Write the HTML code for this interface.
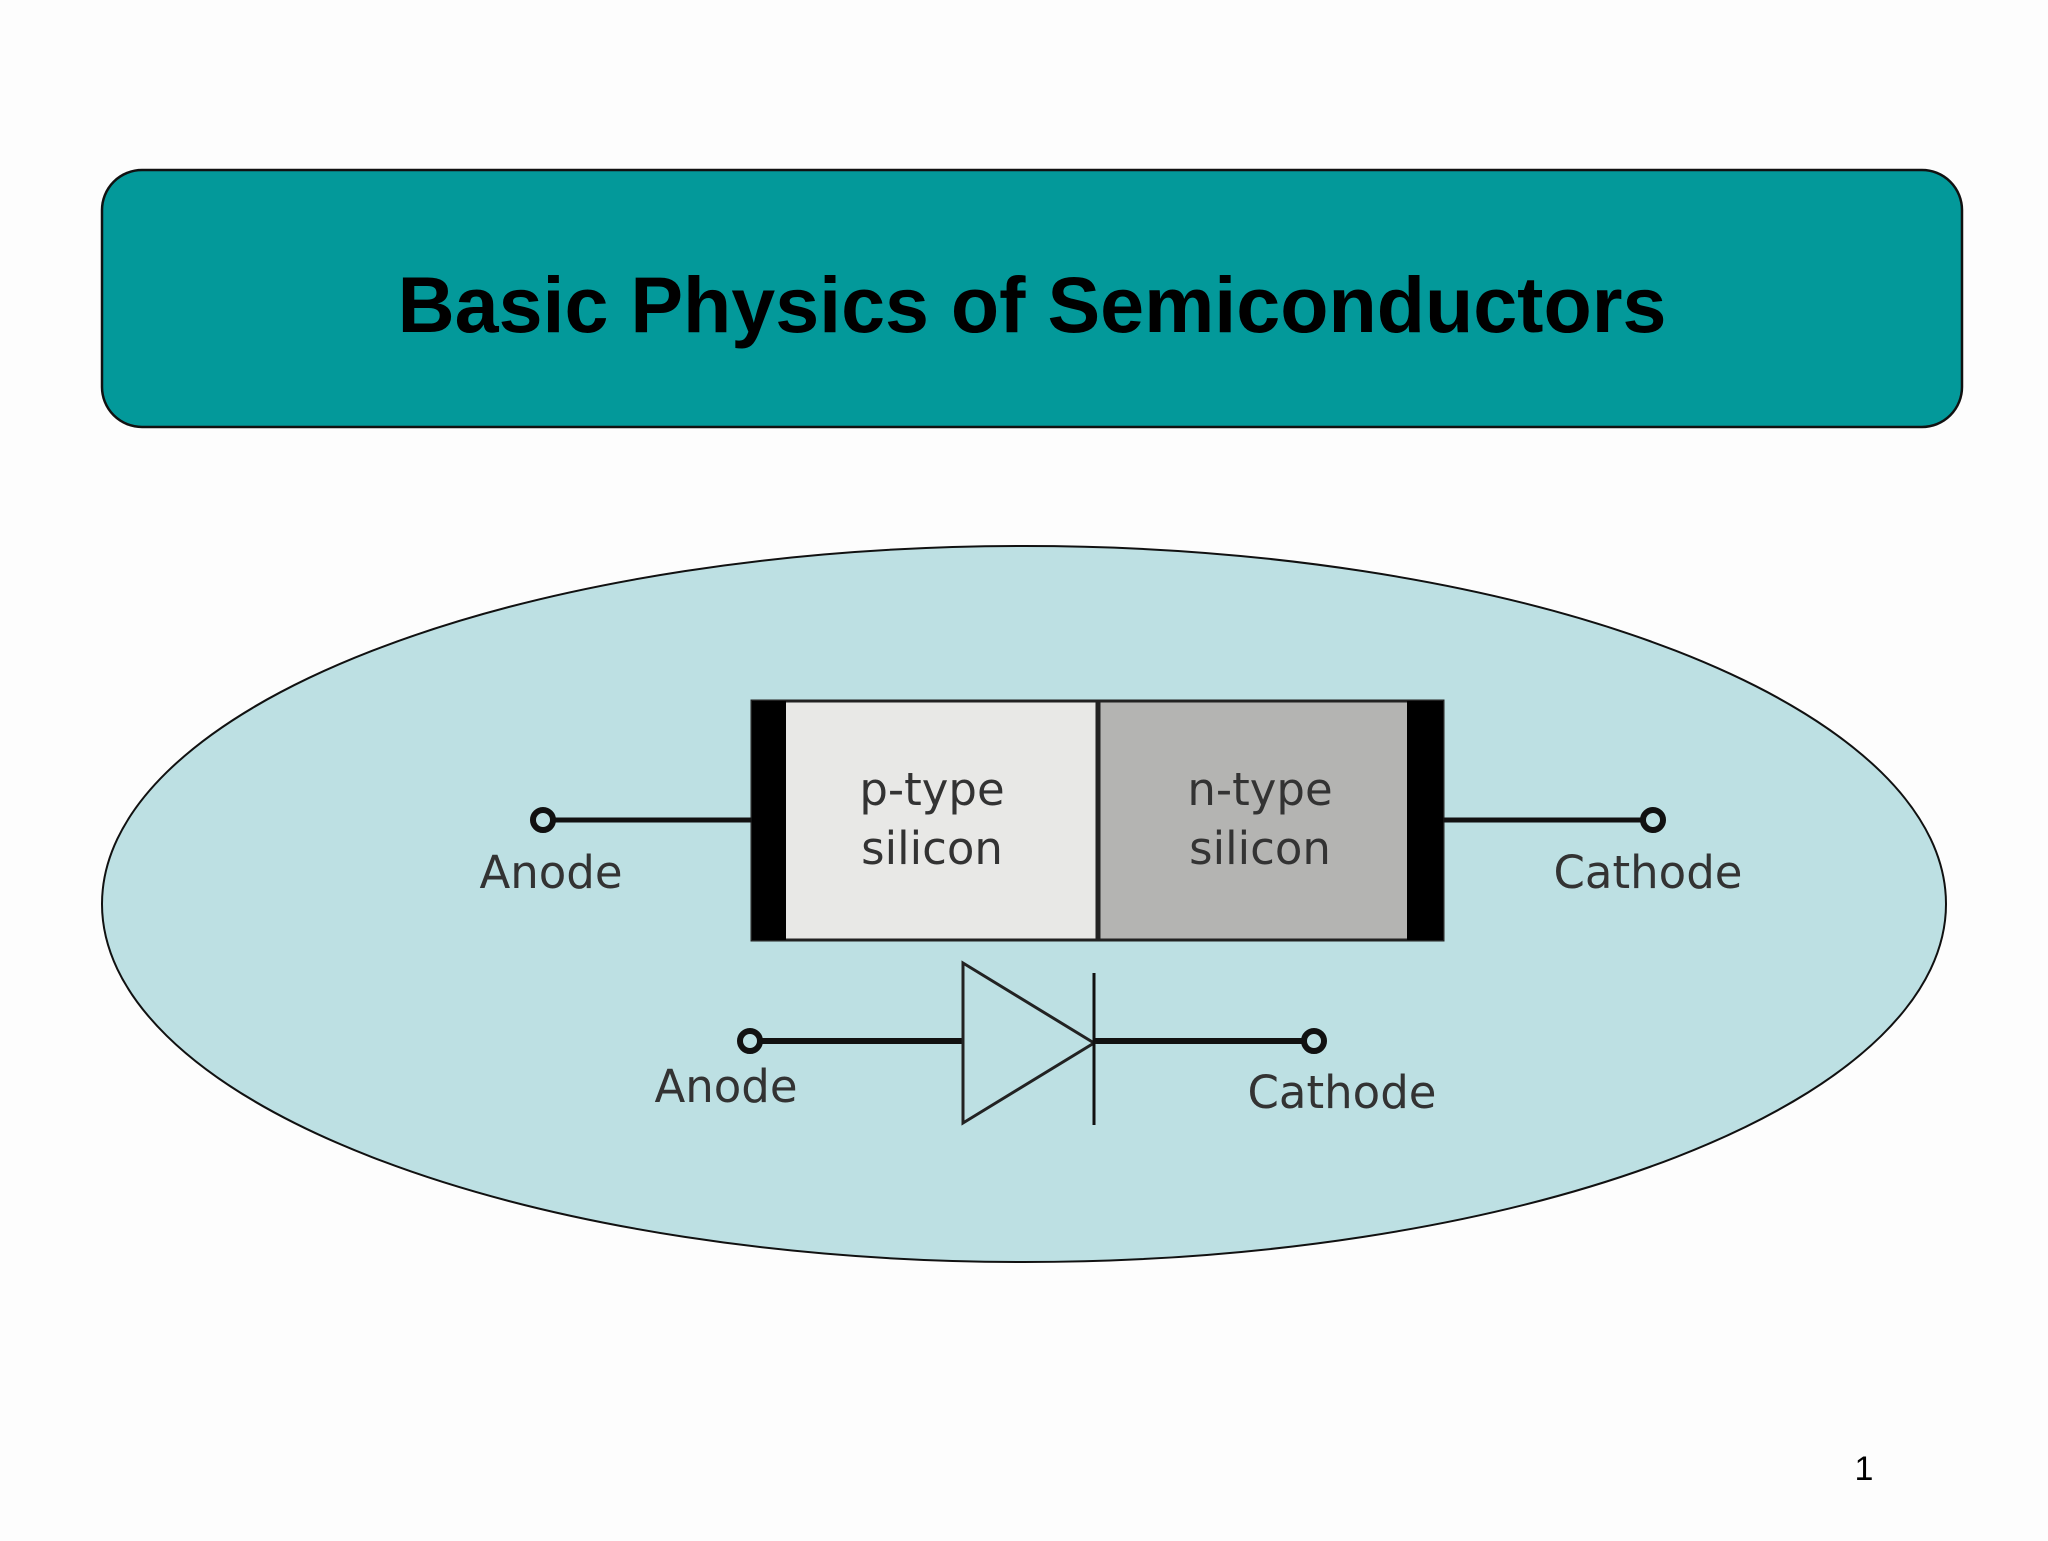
<!DOCTYPE html>
<html><head><meta charset="utf-8"><style>
html,body{margin:0;padding:0;background:#fdfdfd;}
</style></head><body>
<svg width="2048" height="1536" viewBox="0 0 2048 1536" xmlns="http://www.w3.org/2000/svg">
<rect width="2048" height="1536" fill="#fdfdfd"/>
<rect x="102" y="170" width="1860" height="257" rx="40" ry="40" fill="#03999a" stroke="#111" stroke-width="2.5"/>
<text x="1032" y="332" text-anchor="middle" font-family="Liberation Sans, Arial, sans-serif" font-weight="bold" font-size="79" fill="#000">Basic Physics of Semiconductors</text>
<ellipse cx="1024" cy="904" rx="922" ry="358" fill="#bde0e3" stroke="#111" stroke-width="2"/>
<rect x="752" y="701" width="345" height="239" fill="#e8e8e6" stroke="#222" stroke-width="3"/>
<rect x="1099" y="701" width="344" height="239" fill="#b4b4b2" stroke="#222" stroke-width="3"/>
<rect x="752" y="701" width="34" height="239" fill="#000"/>
<rect x="1407" y="701" width="36" height="239" fill="#000"/>
<line x1="543" y1="820" x2="752" y2="820" stroke="#111" stroke-width="5"/>
<line x1="1443" y1="820" x2="1653" y2="820" stroke="#111" stroke-width="5"/>
<circle cx="543" cy="820" r="10" fill="#bde0e3" stroke="#111" stroke-width="6"/>
<circle cx="1653" cy="820" r="10" fill="#bde0e3" stroke="#111" stroke-width="6"/>
<g font-family="DejaVu Sans, sans-serif" font-size="45" fill="#333" text-anchor="middle">
<text x="932" y="805">p-type</text>
<text x="932" y="864">silicon</text>
<text x="1260" y="805">n-type</text>
<text x="1260" y="864">silicon</text>
<text x="551" y="888">Anode</text>
<text x="1648" y="888">Cathode</text>
<text x="726" y="1102">Anode</text>
<text x="1342" y="1108">Cathode</text>
</g>
<line x1="750" y1="1041" x2="963" y2="1041" stroke="#111" stroke-width="6"/>
<line x1="1094" y1="1041" x2="1314" y2="1041" stroke="#111" stroke-width="6"/>
<circle cx="750" cy="1041" r="10" fill="#bde0e3" stroke="#111" stroke-width="6"/>
<circle cx="1314" cy="1041" r="10" fill="#bde0e3" stroke="#111" stroke-width="6"/>
<polygon points="963,963 963,1123 1094,1043" fill="#bde0e3" stroke="#222" stroke-width="3"/>
<line x1="1094" y1="973" x2="1094" y2="1125" stroke="#111" stroke-width="3"/>
<text x="1864" y="1480" text-anchor="middle" font-family="Liberation Sans, Arial, sans-serif" font-size="34" fill="#000">1</text>
</svg>
</body></html>
